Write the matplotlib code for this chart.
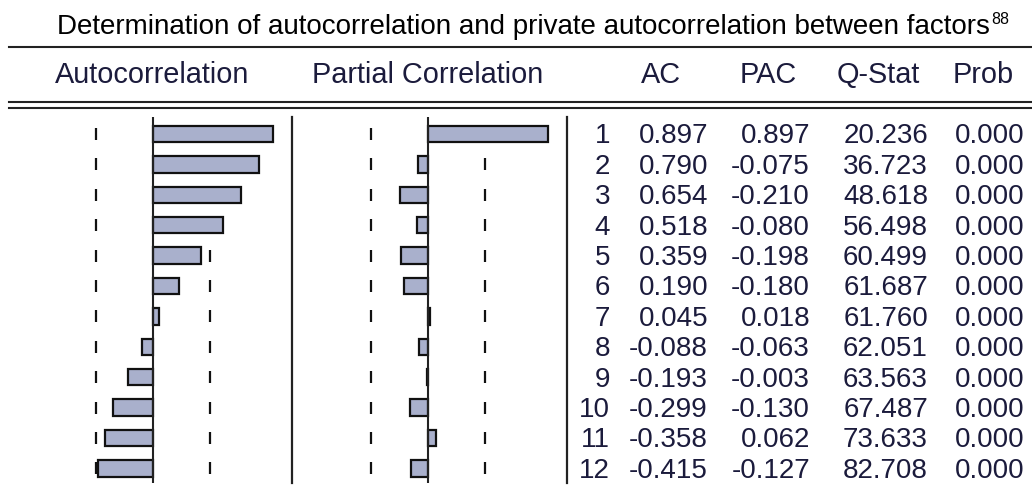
import matplotlib
matplotlib.use("Agg")
import matplotlib.pyplot as plt
from matplotlib.transforms import blended_transform_factory

plt.rcParams['font.family'] = ['Liberation Sans', 'DejaVu Sans']

# values
lags = list(range(1, 13))
ac = [0.897, 0.790, 0.654, 0.518, 0.359, 0.190, 0.045, -0.088, -0.193, -0.299, -0.358, -0.415]
pac = [0.897, -0.075, -0.210, -0.080, -0.198, -0.180, 0.018, -0.063, -0.003, -0.130, 0.062, -0.127]
qstat = [20.236, 36.723, 48.618, 56.498, 60.499, 61.687, 61.760, 62.051, 63.563, 67.487, 73.633, 82.708]
prob = [0.000] * 12
conf = 0.427
headers = ["Autocorrelation", "Partial Correlation", "AC", "PAC", "Q-Stat", "Prob"]
title = "Determination of autocorrelation and private autocorrelation between factors"

W, H = 1032, 494
fig = plt.figure(figsize=(W / 100, H / 100), dpi=100)

def px_axes(x0, y0, x1, y1):
    # pixel box (top-left origin) -> figure axes
    return fig.add_axes([x0 / W, 1 - y1 / H, (x1 - x0) / W, (y1 - y0) / H])

bar_fill = "#A9B0CC"
line_col = "#222222"
txt_col = "#1b1b3c"

ax_acf = px_axes(17, 117, 292.3, 483)
ax_pacf = px_axes(291.5, 117, 566.7, 483)

for ax, vals in [(ax_acf, ac), (ax_pacf, pac)]:
    ax.set_xlim(-1.02, 1.04)
    ax.set_ylim(12.48, 0.44)
    ax.plot([-conf] * len(lags), lags, ls="none", marker="|", ms=8.5, mew=1.6, color="#111111", zorder=1)
    ax.plot([conf] * len(lags), lags, ls="none", marker="|", ms=8.5, mew=1.6, color="#111111", zorder=1)
    ax.barh(lags, vals, height=0.54, color=bar_fill, edgecolor="#111111", linewidth=1.6, zorder=2)
    ax.axvline(0, color=line_col, lw=1.5, zorder=3)
    for s in ["top", "bottom", "left"]:
        ax.spines[s].set_visible(False)
    ax.spines["right"].set_color(line_col)
    ax.spines["right"].set_linewidth(1.6)
    ax.set_xticks([])
    ax.set_yticks([])
    ax.patch.set_alpha(0)

ax_t = fig.add_axes([0, 0, 1, 1], zorder=-1)
ax_t.set_xlim(0, W)
ax_t.set_ylim(H, 0)
ax_t.axis("off")

# title with superscript
ax_t.text(990, 34.3, title, ha="right", va="baseline", fontsize=20, color="black")
ax_t.text(991, 24.5, "88", ha="left", va="baseline", fontsize=11.5, color="black")

# rules
ax_t.plot([9, W], [46.7, 46.7], color=line_col, lw=1.5)
ax_t.plot([9, W], [101.8, 101.8], color=line_col, lw=1.5)
ax_t.plot([9, W], [108.0, 108.0], color=line_col, lw=1.5)

# headers
head_x = [152, 428, 661, 768, 878, 983]
for hx, h in zip(head_x, headers):
    ax_t.text(hx, 83.3, h, ha="center", va="baseline", fontsize=20.8, color=txt_col)

# table rows, y tied to the bar axes scale
tr = blended_transform_factory(ax_t.transData, ax_acf.transData)
cols_x = [610, 708, 810, 928, 1025]
for i, lag in enumerate(lags):
    row = [str(lag), f"{ac[i]:.3f}", f"{pac[i]:.3f}", f"{qstat[i]:.3f}", f"{prob[i]:.3f}"]
    for cx, s in zip(cols_x, row):
        ax_t.text(cx, lag + 0.31, s, ha="right", va="baseline", fontsize=20,
                  color=txt_col, transform=tr)

fig.savefig("out.png", dpi=100)
